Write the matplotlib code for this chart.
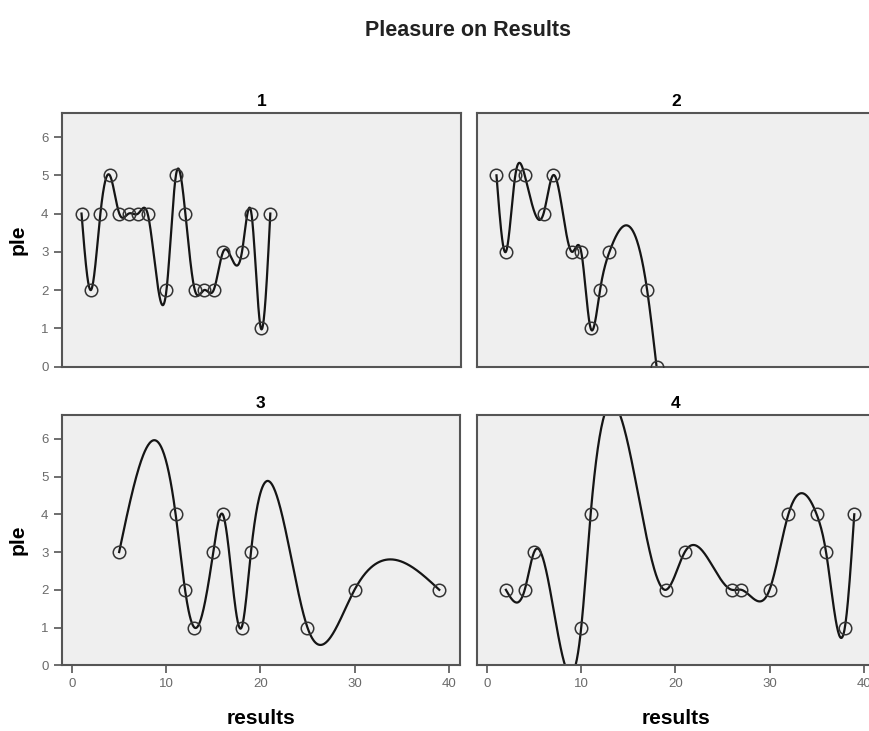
import numpy as np
import matplotlib
matplotlib.use("Agg")
import matplotlib.pyplot as plt

plt.rcParams["font.family"] = ["Liberation Sans", "DejaVu Sans"]

# ---- data ----------------------------------------------------------------- #
results_1 = [1, 2, 3, 4, 5, 6, 7, 8, 10, 11, 12, 13, 14, 15, 16, 18, 19, 20, 21]
ple_1 = [4, 2, 4, 5, 4, 4, 4, 4, 2, 5, 4, 2, 2, 2, 3, 3, 4, 1, 4]

results_2 = [1, 2, 3, 4, 6, 7, 9, 10, 11, 12, 13, 17, 18]
ple_2 = [5, 3, 5, 5, 4, 5, 3, 3, 1, 2, 3, 2, 0]

results_3 = [5, 11, 12, 13, 15, 16, 18, 19, 25, 30, 39]
ple_3 = [3, 4, 2, 1, 3, 4, 1, 3, 1, 2, 2]

results_4 = [2, 4, 5, 10, 11, 19, 21, 26, 27, 30, 32, 35, 36, 38, 39]
ple_4 = [2, 2, 3, 1, 4, 2, 3, 2, 2, 2, 4, 4, 3, 1, 4]

panel_titles = ["1", "2", "3", "4"]
x_ticks = [0, 10, 20, 30, 40]
y_ticks = [0, 1, 2, 3, 4, 5, 6]


def natural_spline(x, y, n_out=600):
    """Natural cubic spline through (x, y), like SPSS 'spline' interpolation."""
    x = np.asarray(x, float)
    y = np.asarray(y, float)
    n = len(x)
    h = np.diff(x)
    A = np.zeros((n, n))
    b = np.zeros(n)
    A[0, 0] = A[-1, -1] = 1.0
    for i in range(1, n - 1):
        A[i, i - 1] = h[i - 1]
        A[i, i] = 2 * (h[i - 1] + h[i])
        A[i, i + 1] = h[i]
        b[i] = 6 * ((y[i + 1] - y[i]) / h[i] - (y[i] - y[i - 1]) / h[i - 1])
    M = np.linalg.solve(A, b)
    xs = np.linspace(x[0], x[-1], n_out)
    idx = np.clip(np.searchsorted(x, xs) - 1, 0, n - 2)
    x0, x1 = x[idx], x[idx + 1]
    hh = x1 - x0
    t0, t1 = x1 - xs, xs - x0
    ys = (M[idx] * t0 ** 3 / (6 * hh) + M[idx + 1] * t1 ** 3 / (6 * hh)
          + (y[idx] / hh - M[idx] * hh / 6) * t0
          + (y[idx + 1] / hh - M[idx + 1] * hh / 6) * t1)
    return xs, ys


W, H = 869, 731
fig = plt.figure(figsize=(W / 100, H / 100), dpi=100)

# panel rectangles in pixels: left, right, top, bottom
rects = [(61.7, 461, 113, 366.5), (476.7, 875, 113, 366.5),
         (61.7, 460, 415, 665.3), (476.7, 875, 415, 665.3)]
series = [(results_1, ple_1), (results_2, ple_2),
          (results_3, ple_3), (results_4, ple_4)]

frame_col = "#555555"
tick_col = "#6a6a6a"

for k, ((l, r, t, b), (xv, yv)) in enumerate(zip(rects, series)):
    ax = fig.add_axes([l / W, 1 - b / H, (r - l) / W, (b - t) / H])
    ax.set_facecolor("#efefef")
    xs, ys = natural_spline(xv, yv)
    ax.plot(xs, ys, color="#151515", lw=1.6, zorder=2)
    ax.plot(xv, yv, ls="none", marker="o", ms=9, mfc="none",
            mec="#333333", mew=1.1, zorder=3)
    ax.set_xlim(-1.1, 41.2)
    ax.set_ylim(0, 6.63)
    for s in ax.spines.values():
        s.set_color(frame_col)
        s.set_linewidth(1.5)
    ax.set_title(panel_titles[k], fontsize=12.5, fontweight="bold", pad=5)

    row, col = divmod(k, 2)
    if col == 0:
        ax.set_yticks(y_ticks)
        ax.set_ylabel("ple", fontsize=15, fontweight="bold", labelpad=10)
    else:
        ax.set_yticks([])
    if row == 1:
        ax.set_xticks(x_ticks)
        ax.set_xlabel("results", fontsize=15, fontweight="bold", labelpad=13)
    else:
        ax.set_xticks([])
    ax.tick_params(colors=frame_col, labelcolor=tick_col, labelsize=9.5,
                   length=6, width=1.2, direction="out")

fig.text(468 / W, 1 - 30 / H, "Pleasure on Results", ha="center",
         va="center", fontsize=15.5, fontweight="bold", color="#222222")

fig.savefig("out.png", dpi=100)
